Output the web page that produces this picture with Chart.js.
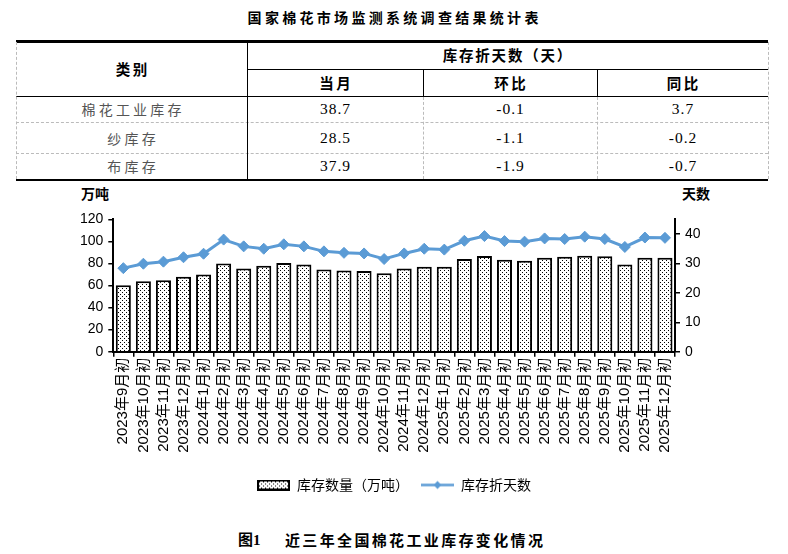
<!DOCTYPE html>
<html><head><meta charset="utf-8">
<script src="https://cdn.jsdelivr.net/npm/chart.js@4.4.1/dist/chart.umd.min.js"></script>
<style>
body{margin:0;width:788px;height:554px;background:#fff;position:relative;overflow:hidden;font-family:'Noto Sans CJK SC',sans-serif;color:#000;}
.ln{position:absolute;}
.t{position:absolute;white-space:nowrap;transform:translate(-50%,-50%);line-height:1;}
#wrap{position:absolute;left:0;top:182px;width:788px;height:330px;}
</style></head><body>
<script>
// ---------- data ----------
const tableTitle = '国家棉花市场监测系统调查结果统计表';
const rowLabels = ['棉花工业库存', '纱库存', '布库存'];
const currentDays = ['38.7', '28.5', '37.9'];
const momChange = ['-0.1', '-1.1', '-1.9'];
const yoyChange = ['3.7', '-0.2', '-0.7'];

const categories = [
  '2023年9月初','2023年10月初','2023年11月初','2023年12月初',
  '2024年1月初','2024年2月初','2024年3月初','2024年4月初','2024年5月初','2024年6月初',
  '2024年7月初','2024年8月初','2024年9月初','2024年10月初','2024年11月初','2024年12月初',
  '2025年1月初','2025年2月初','2025年3月初','2025年4月初','2025年5月初','2025年6月初',
  '2025年7月初','2025年8月初','2025年9月初','2025年10月初','2025年11月初','2025年12月初'
];
const stockTons = [60.2, 63.8, 64.8, 68.0, 70.0, 80.0, 75.5, 78.0, 80.5, 79.0, 74.6, 73.6, 73.1, 71.0,
  75.3, 77.0, 76.9, 84.0, 86.8, 83.4, 82.5, 85.2, 86.0, 87.0, 86.5, 79.0, 85.2, 85.2];
const stockDays = [28.4, 29.9, 30.6, 32.1, 33.3, 38.1, 35.8, 35.0, 36.5, 35.8, 34.1, 33.6, 33.4, 31.5,
  33.4, 35.0, 34.7, 37.7, 39.3, 37.6, 37.4, 38.5, 38.3, 39.1, 38.3, 35.6, 38.8, 38.7];
const leftTicks = [0, 20, 40, 60, 80, 100, 120];
const rightTicks = [0, 10, 20, 30, 40];
const leftAxisTitle = '万吨';
const rightAxisTitle = '天数';
const legendLabels = ['库存数量（万吨）', '库存折天数'];
const captionNo = '图1';
const captionText = '近三年全国棉花工业库存变化情况';

// ---------- page text / table ----------
function addLine(x, y, w, h, style) {
  const d = document.createElement('div');
  d.className = 'ln';
  d.style.cssText = `left:${x}px;top:${y}px;width:${w}px;height:${h}px;${style}`;
  document.body.appendChild(d);
}
function addText(txt, cx, cy, css) {
  const d = document.createElement('div');
  d.className = 't';
  d.textContent = txt;
  d.style.cssText = `left:${cx}px;top:${cy}px;${css}`;
  document.body.appendChild(d);
}
const L = 15.5, R = 768, C1 = 247, C2 = 423, C3 = 597;
const solid = 'background:#000;';
addLine(L, 40, R - L, 2.5, solid);
addLine(L, 178.5, R - L, 2.5, solid);
addLine(L, 96, R - L, 1, solid);
addLine(C1, 69, R - C1, 1, solid);
addLine(L, 122, R - L, 0, 'border-top:1px dashed #bbb;');
addLine(L, 153, R - L, 0, 'border-top:1px dashed #bbb;');
addLine(C1, 41, 1.2, 138, solid);
addLine(C2, 69, 1, 27, solid);
addLine(C3, 69, 1, 27, solid);
addLine(C2, 97, 0, 82, 'border-left:1px dashed #bbb;');
addLine(C3, 97, 0, 82, 'border-left:1px dashed #bbb;');
addLine(L, 42, 0, 137, 'border-left:1px dashed #bbb;');
addLine(R, 42, 0, 137, 'border-left:1px dashed #bbb;');

const serifMix = "font-family:'Liberation Serif','Noto Sans CJK SC',serif;";
addText(tableTitle, 393, 18.5, serifMix + 'font-size:14px;font-weight:bold;letter-spacing:3.3px;padding-left:3.3px;');
const hdr = 'font-size:14.5px;font-weight:bold;letter-spacing:2.5px;padding-left:2.5px;';
addText('类别', 131.5, 69, hdr);
addText('库存折天数（天）', 507, 55, 'font-size:14.5px;font-weight:bold;letter-spacing:1.8px;padding-left:1.8px;');
addText('当月', 335, 83, hdr);
addText('环比', 510, 83, hdr);
addText('同比', 682.5, 83, hdr);
const rowY = [109, 138, 166];
const numCss = "font-family:'Liberation Serif',serif;font-size:15.5px;letter-spacing:1px;padding-left:1px;";
rowLabels.forEach((lab, i) => {
  addText(lab, 131.5, rowY[i], 'font-size:14px;color:#555;letter-spacing:3.2px;padding-left:3.2px;');
  addText(currentDays[i], 335, rowY[i], numCss);
  addText(momChange[i], 510, rowY[i], numCss);
  addText(yoyChange[i], 682.5, rowY[i], numCss);
});
addText(leftAxisTitle, 95, 193, 'font-size:14px;font-weight:bold;');
addText(rightAxisTitle, 696, 193, 'font-size:14px;font-weight:bold;');
const cap1 = document.createElement('div');
cap1.style.cssText = "position:absolute;left:238px;top:531px;font-size:15px;font-weight:bold;line-height:18px;font-family:'Liberation Serif','Noto Sans CJK SC',serif;white-space:nowrap;";
cap1.textContent = captionNo;
document.body.appendChild(cap1);
const cap2 = document.createElement('div');
cap2.style.cssText = "position:absolute;left:285px;top:531px;font-size:15px;font-weight:bold;line-height:18px;letter-spacing:2.35px;white-space:nowrap;";
cap2.textContent = captionText;
document.body.appendChild(cap2);
</script>
<div id="wrap"><canvas id="c" width="788" height="330"></canvas></div>
<script>
const FONT = "'Liberation Sans','Noto Sans CJK SC',sans-serif";
const LINE_COLOR = '#5B9BD5';

const tile = document.createElement('canvas');
tile.width = 4; tile.height = 4;
const tc = tile.getContext('2d');
tc.fillStyle = '#fff'; tc.fillRect(0, 0, 4, 4);
tc.fillStyle = '#000'; tc.fillRect(0, 0, 1, 1); tc.fillRect(2, 2, 1, 1);
const ctx = document.getElementById('c').getContext('2d');
const dots = ctx.createPattern(tile, 'repeat');

const barIcon = document.createElement('canvas');
barIcon.width = 33; barIcon.height = 11;
(function () {
  const g = barIcon.getContext('2d');
  g.fillStyle = g.createPattern(tile, 'repeat');
  g.fillRect(0, 0, 33, 11);
  g.strokeStyle = '#000'; g.lineWidth = 2;
  g.strokeRect(1, 1, 31, 9);
})();
const lineIcon = document.createElement('canvas');
lineIcon.width = 33; lineIcon.height = 11;
(function () {
  const g = lineIcon.getContext('2d');
  g.strokeStyle = LINE_COLOR; g.lineWidth = 2.5;
  g.beginPath(); g.moveTo(0, 5.5); g.lineTo(33, 5.5); g.stroke();
  g.fillStyle = LINE_COLOR;
  g.beginPath(); g.moveTo(12.5, 5.5); g.lineTo(16.5, 1.5); g.lineTo(20.5, 5.5); g.lineTo(16.5, 9.5); g.closePath(); g.fill();
})();

new Chart(ctx, {
  data: {
    labels: categories,
    datasets: [
      {
        type: 'bar', label: legendLabels[0], data: stockTons, yAxisID: 'y',
        backgroundColor: dots, borderColor: '#000', borderWidth: 2,
        barPercentage: 0.75, categoryPercentage: 1.0
      },
      {
        type: 'line', label: legendLabels[1], data: stockDays, yAxisID: 'y1',
        borderColor: LINE_COLOR, backgroundColor: LINE_COLOR, borderWidth: 3,
        pointStyle: 'rectRot', pointRadius: 5.5, pointBorderWidth: 1,
        pointBackgroundColor: LINE_COLOR, pointBorderColor: LINE_COLOR, tension: 0
      }
    ]
  },
  options: {
    responsive: false,
    animation: false,
    layout: { padding: { top: 37.3, bottom: 10, left: 0, right: 0 } },
    plugins: {
      tooltip: { enabled: false },
      legend: {
        position: 'bottom',
        labels: {
          usePointStyle: true, pointStyleWidth: 33, boxHeight: 11,
          padding: 12, color: '#000',
          font: { size: 14, family: "'Noto Sans CJK SC',sans-serif" },
          generateLabels: () => [
            { text: legendLabels[0], pointStyle: barIcon, datasetIndex: 0, fillStyle: 'transparent', strokeStyle: 'transparent', lineWidth: 0, hidden: false, fontColor: '#000' },
            { text: legendLabels[1], pointStyle: lineIcon, datasetIndex: 1, fillStyle: 'transparent', strokeStyle: 'transparent', lineWidth: 0, hidden: false, fontColor: '#000' }
          ]
        }
      }
    },
    scales: {
      x: {
        grid: { drawOnChartArea: false, drawTicks: true, tickLength: 5, color: '#000', lineWidth: 1.5, offset: true },
        border: { display: true, color: '#000', width: 2 },
        ticks: { autoSkip: false, maxRotation: 90, minRotation: 90, color: '#000', padding: 1, font: { size: 15, family: FONT } },
        afterFit: s => { s.height = 114.3; }
      },
      y: {
        position: 'left', min: 0, max: 120,
        grid: { drawOnChartArea: false, tickLength: 5, color: '#000', lineWidth: 1.5 },
        border: { display: true, color: '#000', width: 2 },
        ticks: { color: '#000', padding: 5, font: { size: 14, family: FONT } },
        afterBuildTicks: s => { s.ticks = leftTicks.map(v => ({ value: v })); },
        afterFit: s => { s.width = 113.3; }
      },
      y1: {
        position: 'right', min: 0, max: 45,
        grid: { drawOnChartArea: false, tickLength: 5, color: '#000', lineWidth: 1.5 },
        border: { display: true, color: '#000', width: 2 },
        ticks: { color: '#000', padding: 5, font: { size: 14, family: FONT } },
        afterBuildTicks: s => { s.ticks = rightTicks.map(v => ({ value: v })); },
        afterFit: s => { s.width = 113; }
      }
    }
  }
});
</script>
</body></html>
